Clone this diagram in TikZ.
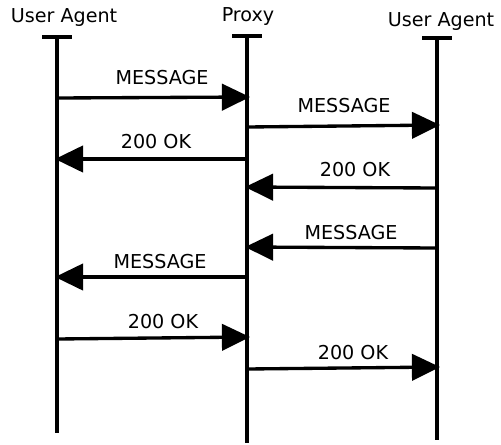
\documentclass[tikz,border=0pt]{standalone}
\usepackage{fontspec}
\setmainfont{DejaVu Sans}
\usetikzlibrary{arrows.meta}

\tikzset{
	msg/.style={-{Triangle[length=16pt,width=15pt]}},
	lbl/.style={font=\fontsize{10.9}{12}\selectfont, inner sep=0pt},
}

\begin{document}
\begin{tikzpicture}[x=0.02cm, y=-0.02cm, line width=1.9pt]
		
		\useasboundingbox (0,0) rectangle (501,444);
		
		% lifelines
		\node[lbl] (ua1) at (64,18) {User Agent};
		\node[lbl] (px) at (248,17) {Proxy};
		\node[lbl] (ua2) at (441,22) {User Agent};
		
		\coordinate (t1) at (57,37);
		\coordinate (b1) at (57,433);
		\coordinate (t2) at (247,36);
		\coordinate (b2) at (247,443);
		\coordinate (t3) at (437,38);
		\coordinate (b3) at (437,440);
		
		\foreach \i in {1,2,3}{
			\draw (t\i) -- (b\i);
			\draw (t\i) ++(-15,0) -- ++(30,0);
		}
		
		% messages
		\foreach \n/\xa/\ya/\xb/\yb/\txt/\lx/\ly in {
			1/57/98/250/97/MESSAGE/162/78,
			2/247/127/440/125/MESSAGE/344/106,
			3/247/159/55/159/200 OK/156/142,
			4/437/188/245/187/200 OK/355/170,
			5/437/248/245/247/MESSAGE/351/233,
			6/247/277/55/277/MESSAGE/160/262,
			7/57/339/250/337/200 OK/163/322,
			8/247/369/440/367/200 OK/353/353}{
			\coordinate (s\n) at (\xa,\ya);
			\coordinate (e\n) at (\xb,\yb);
			\draw[msg] (s\n) -- (e\n);
			\node[lbl] (m\n) at (\lx,\ly) {\txt};
		}
		
\end{tikzpicture}
\end{document}
